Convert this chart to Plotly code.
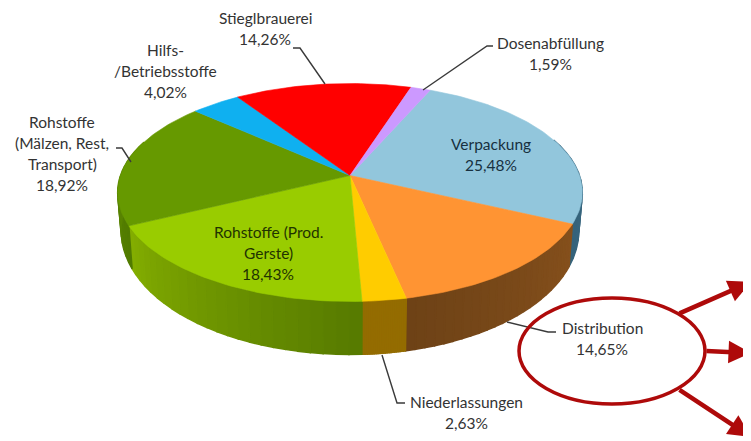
import math
import plotly.graph_objects as go

# --- data (clockwise, starting at Verpackung) ---
categories = ["Verpackung", "Distribution", "Niederlassungen", "Rohstoffe (Prod. Gerste)",
              "Rohstoffe (Mälzen, Rest, Transport)", "Hilfs-/Betriebsstoffe", "Stieglbrauerei", "Dosenabfüllung"]
values = [25.48, 14.65, 2.63, 18.43, 18.92, 4.02, 14.26, 1.59]
top_colors = ["#92C6DC", "#FF9433", "#FFCC00", "#99CC00", "#669900", "#0FB0F0", "#FF0000", "#CC99FF"]
wall_dark = ["#35627A", "#6E4216", "#946C00", "#567A00", "#507A00", "#0A6F99", "#990000", "#7A5C99"]
wall_light = ["#4C7F99", "#85501C", "#946C00", "#84AE00", "#6A9600", "#0A6F99", "#990000", "#7A5C99"]
label_lines = [["Verpackung", "25,48%"], ["Distribution", "14,65%"], ["Niederlassungen", "2,63%"],
               ["Rohstoffe (Prod.", "Gerste)", "18,43%"], ["Rohstoffe", "(Mälzen, Rest,", "Transport)", "18,92%"],
               ["Hilfs-", "/Betriebsstoffe", "4,02%"], ["Stieglbrauerei", "14,26%"], ["Dosenabfüllung", "1,59%"]]

# --- layout of the tilted disc ---
CX, CY, R, B, P = 350, 175.5, 229.5, 106.3, 0.156
START_DEG = 23.5
label_pos = [(491, 144), (602, 328), (466, 402), (268, 232), (62, 122), (165, 50), (265, 18), (550, 43)]
label_color = ["#17303F", "#333333", "#333333", "#1F3300", "#333333", "#333333", "#333333", "#333333"]
LINE_H = 21
leaders = [None, ((507, 322), (548, 332), (556, 332)), ((382, 355), (397, 403), (405, 403)), None,
           ((131, 162), (122, 148), (116, 148)), None, ((325, 84), (300, 48), (293, 48)),
           ((423, 90), (487, 46), (493, 46))]
RED = "#AE0A0A"
arrows = [((678, 314), (751, 282)), ((705, 351), (751, 353)), ((678, 389), (751, 437))]
PAGE_OFFSET = 8  # the browser page keeps an 8 px body margin


def project(alpha, depth=False):
    u, v = math.sin(alpha), -math.cos(alpha)
    s = 1 / (1 - P * v)
    x = CX + R * u * s
    y = CY + B * v * s
    if depth:
        y += 35 + 18 * v
        x = CX + (x - CX) * 0.985
    return x, y


def mix(c1, c2, t):
    a = [int(c1[i:i + 2], 16) for i in (1, 3, 5)]
    b = [int(c2[i:i + 2], 16) for i in (1, 3, 5)]
    return "rgb(%d,%d,%d)" % tuple(round(p + (q - p) * t) for p, q in zip(a, b))


total = sum(values)
edges = [math.radians(START_DEG)]
for val in values:
    edges.append(edges[-1] + val / total * 2 * math.pi)

fig = go.Figure()


def poly(xs, ys, color, name, lw=0.6):
    fig.add_trace(go.Scatter(x=xs, y=ys, mode="lines", fill="toself", fillcolor=color,
                             line=dict(color=color, width=lw), name=name,
                             hoverinfo="name", showlegend=False))


# side wall: small strips, only where it faces the viewer
STRIPS = 24
for i, cat in enumerate(categories):
    a0, a1 = edges[i], edges[i + 1]
    for k in range(STRIPS):
        s0 = a0 + (a1 - a0) * k / STRIPS
        s1 = a0 + (a1 - a0) * (k + 1) / STRIPS
        if -math.cos((s0 + s1) / 2) < -0.35:
            continue
        t = (k + 0.5) / STRIPS
        t = t if i == 3 else 1 - t if i in (0, 1) else t
        xa, ya = project(s0)
        xb, yb = project(s1)
        xc, yc = project(s1, True)
        xd, yd = project(s0, True)
        shade = mix(wall_dark[i], wall_light[i], t)
        poly([xa, xb, xc, xd, xa], [ya, yb, yc, yd, ya], shade, cat, lw=1.5)

# top face
for i, cat in enumerate(categories):
    a0, a1 = edges[i], edges[i + 1]
    n = max(6, int(values[i] * 3))
    pts = [project(a0 + (a1 - a0) * j / n) for j in range(n + 1)]
    poly([CX] + [p[0] for p in pts] + [CX], [CY] + [p[1] for p in pts] + [CY], top_colors[i], cat)

# leader lines
for lead in leaders:
    if lead:
        fig.add_trace(go.Scatter(x=[p[0] for p in lead], y=[p[1] for p in lead], mode="lines",
                                 line=dict(color="#3A3A3A", width=1.4), hoverinfo="skip", showlegend=False))

# labels, one text per line
anns = []
for i, lines in enumerate(label_lines):
    x0, y0 = label_pos[i]
    for j, text in enumerate(lines):
        anns.append(dict(x=x0, y=y0 + j * LINE_H, text=text, showarrow=False, xref="x", yref="y",
                         xanchor="center", yanchor="middle",
                         font=dict(family="Lato, Open Sans, sans-serif", size=15.5, color=label_color[i])))
# red arrows
for (x0, y0), (x1, y1) in arrows:
    anns.append(dict(x=x1, y=y1, ax=x0, ay=y0, xref="x", yref="y", axref="x", ayref="y", text="",
                     showarrow=True, arrowhead=2, arrowsize=1.0, arrowwidth=4.5, arrowcolor=RED))

fig.update_layout(
    width=751 - PAGE_OFFSET, height=441 - PAGE_OFFSET, margin=dict(l=0, r=0, t=0, b=0), autosize=False,
    paper_bgcolor="white", plot_bgcolor="white", showlegend=False,
    xaxis=dict(range=[PAGE_OFFSET, 751], visible=False, fixedrange=True),
    yaxis=dict(range=[441, PAGE_OFFSET], visible=False, fixedrange=True),
    annotations=anns,
    shapes=[dict(type="circle", xref="x", yref="y", x0=519, x1=705, y0=298, y1=404,
                 line=dict(color=RED, width=3.5), fillcolor="rgba(0,0,0,0)")],
)
fig.write_html("out.html")
